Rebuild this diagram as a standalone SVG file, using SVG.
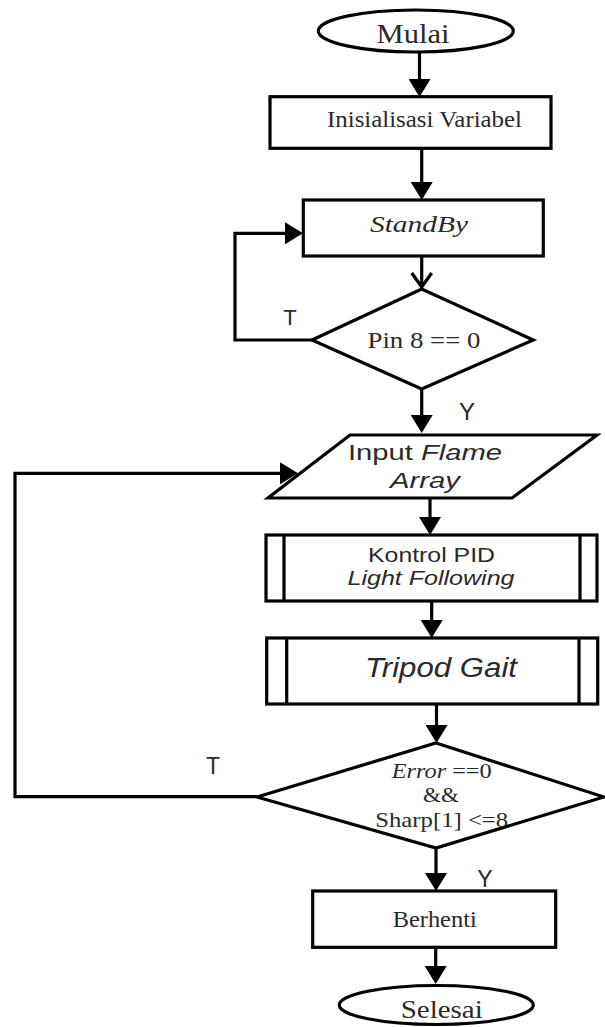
<svg xmlns="http://www.w3.org/2000/svg" width="605" height="1027" viewBox="0 0 605 1027">
<style>
.shape{fill:#fff;stroke:#000;stroke-width:3.2;stroke-linejoin:miter}
.conn{fill:none;stroke:#000;stroke-width:3.2}
.serif{font-family:"Liberation Serif","Times New Roman",serif;fill:#2a2a2a;text-anchor:middle}
.sans{font-family:"Liberation Sans",Arial,sans-serif;fill:#2a2a2a;text-anchor:middle}
.it{font-style:italic}
</style>
<defs>
<marker id="arr" markerUnits="userSpaceOnUse" markerWidth="20" markerHeight="22" refX="14" refY="11" orient="auto">
<path d="M0,0 L18,11 L0,22 z" fill="#000"/>
</marker>
<marker id="open" markerUnits="userSpaceOnUse" markerWidth="20" markerHeight="26" refX="15" refY="13" orient="auto" overflow="visible">
<path d="M1,3 L15,13 L1,23" fill="none" stroke="#000" stroke-width="3.2"/>
</marker>
</defs>

<g id="connectors">
<path class="conn" d="M419.5,52 V93" marker-end="url(#arr)"/>
<path class="conn" d="M421.7,148 V196" marker-end="url(#arr)"/>
<path class="conn" d="M421.7,256 V287" marker-end="url(#open)"/>
<path class="conn" d="M312,340 H235 V233.3 H299" marker-end="url(#arr)"/>
<path class="conn" d="M421.7,389 V429" marker-end="url(#arr)"/>
<path class="conn" d="M257,796.7 H15 V473.3 H294" marker-end="url(#arr)"/>
<path class="conn" d="M430,498 V531" marker-end="url(#arr)"/>
<path class="conn" d="M431.7,601 V634" marker-end="url(#arr)"/>
<path class="conn" d="M436.5,704 V739" marker-end="url(#arr)"/>
<path class="conn" d="M436,848 V887" marker-end="url(#arr)"/>
<path class="conn" d="M435.7,947 V980" marker-end="url(#arr)"/>
<text class="sans" x="290" y="325" font-size="22">T</text>
<text class="sans" x="467" y="420" font-size="24">Y</text>
<text class="sans" x="213" y="774" font-size="23">T</text>
<text class="sans" x="485" y="887" font-size="23">Y</text>
</g>

<g id="mulai">
<ellipse class="shape" cx="415.8" cy="31" rx="97.5" ry="21"/>
<text class="serif" x="413" y="43" font-size="27" textLength="73" lengthAdjust="spacingAndGlyphs">Mulai</text>
</g>

<g id="inisialisasi">
<rect class="shape" x="270" y="96.7" width="281" height="51.6"/>
<text class="serif" x="424.5" y="127" font-size="23" textLength="195" lengthAdjust="spacingAndGlyphs">Inisialisasi Variabel</text>
</g>

<g id="standby">
<rect class="shape" x="303.3" y="200" width="240" height="56"/>
<text class="serif it" x="419" y="232" font-size="24" textLength="98" lengthAdjust="spacingAndGlyphs">StandBy</text>
</g>

<g id="pin8">
<polygon class="shape" points="312,340 421.7,289 533.3,340 421.7,389"/>
<text class="serif" x="424" y="348" font-size="23" textLength="113" lengthAdjust="spacingAndGlyphs">Pin 8 == 0</text>
</g>

<g id="input">
<polygon class="shape" points="350,435 597,435 512,498 268,498"/>
<text class="sans" x="425" y="460" font-size="22" textLength="154" lengthAdjust="spacingAndGlyphs">Input <tspan class="it">Flame</tspan></text>
<text class="sans it" x="425" y="488" font-size="22" textLength="70" lengthAdjust="spacingAndGlyphs">Array</text>
</g>

<g id="pid">
<rect class="shape" x="266" y="535" width="331" height="66"/>
<path class="conn" d="M284,535 V601 M580,535 V601"/>
<text class="sans" x="431.5" y="562" font-size="21" textLength="127" lengthAdjust="spacingAndGlyphs">Kontrol PID</text>
<text class="sans it" x="431" y="585" font-size="21" textLength="167" lengthAdjust="spacingAndGlyphs">Light Following</text>
</g>

<g id="tripod">
<rect class="shape" x="266.7" y="638" width="331" height="66"/>
<path class="conn" d="M286.7,638 V704 M579,638 V704"/>
<text class="sans it" x="441" y="677" font-size="27" textLength="152" lengthAdjust="spacingAndGlyphs">Tripod Gait</text>
</g>

<g id="error">
<polygon class="shape" points="436,743 604,797 436,848 257,797"/>
<text class="serif" x="441.7" y="778" font-size="21" textLength="100" lengthAdjust="spacingAndGlyphs"><tspan class="it">Error</tspan> ==0</text>
<text class="serif" x="441" y="802" font-size="21" textLength="36" lengthAdjust="spacingAndGlyphs">&amp;&amp;</text>
<text class="serif" x="441.7" y="827" font-size="21" textLength="133" lengthAdjust="spacingAndGlyphs">Sharp[1] &lt;=8</text>
</g>

<g id="berhenti">
<rect class="shape" x="312.7" y="891" width="243" height="56.3"/>
<text class="serif" x="434.7" y="927" font-size="23" textLength="84" lengthAdjust="spacingAndGlyphs">Berhenti</text>
</g>

<g id="selesai">
<ellipse class="shape" cx="436.3" cy="1005" rx="97" ry="19.5"/>
<text class="serif" x="441.7" y="1018" font-size="25" textLength="82" lengthAdjust="spacingAndGlyphs">Selesai</text>
</g>
</svg>
